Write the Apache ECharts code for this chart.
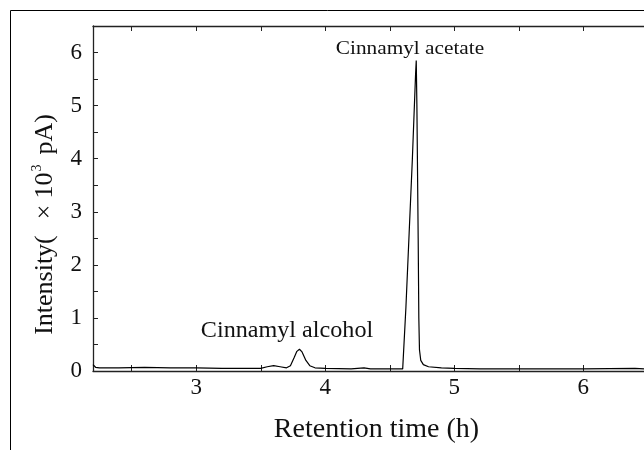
<!DOCTYPE html>
<html><head><meta charset="utf-8">
<script src="https://cdn.jsdelivr.net/npm/echarts@6/dist/echarts.min.js"></script>
<style>html,body{margin:0;padding:0;background:#fff}#c{width:644px;height:450px}</style>
</head><body><div id="c"></div>
<script>
// Retention time (h)
const retentionTime = [2.2, 2.22, 2.25, 2.4, 2.6, 2.8, 3.0, 3.2, 3.4, 3.5, 3.55, 3.6, 3.65, 3.7, 3.73, 3.76, 3.78, 3.8, 3.82, 3.85, 3.88, 3.92, 4.0, 4.2, 4.3, 4.35, 4.5, 4.6, 4.625, 4.65, 4.675, 4.7, 4.705, 4.71, 4.72, 4.725, 4.73, 4.74, 4.76, 4.8, 4.9, 5.0, 5.2, 5.5, 6.0, 6.4, 6.47];
// Intensity (x10^3 pA)
const intensity =     [0.12, 0.07, 0.06, 0.06, 0.07, 0.06, 0.06, 0.05, 0.05, 0.05, 0.08, 0.1, 0.08, 0.06, 0.1, 0.26, 0.37, 0.41, 0.36, 0.2, 0.1, 0.06, 0.05, 0.04, 0.06, 0.04, 0.04, 0.04, 1.2, 2.6, 4.0, 5.6, 5.85, 5.0, 2.5, 1.0, 0.4, 0.2, 0.12, 0.08, 0.06, 0.05, 0.04, 0.04, 0.04, 0.05, 0.04];
const xTickValues = [2.5, 3, 3.5, 4, 4.5, 5, 5.5, 6];
const xLabelValues = [3, 4, 5, 6];
const yLabelValues = [0, 1, 2, 3, 4, 5, 6];
const annotations = [
  { text: 'Cinnamyl alcohol' },
  { text: 'Cinnamyl acetate' }
];

const FONT = '"Liberation Serif", "DejaVu Serif", serif';
const chart = echarts.init(document.getElementById('c'), null, { renderer: 'canvas' });
const axisLine = { show: true, lineStyle: { color: '#222', width: 1.3 } };
chart.setOption({
  animation: false,
  backgroundColor: '#fff',
  grid: { left: 93, top: 26, right: 0, bottom: 79, containLabel: false },
  xAxis: [{
    type: 'value', position: 'bottom', min: 2.2, max: 6.47,
    axisLine: axisLine,
    axisTick: { show: true, inside: true, length: 6, customValues: xTickValues, lineStyle: { color: '#222' } },
    axisLabel: { customValues: xLabelValues, fontFamily: FONT, fontSize: 23, color: '#111', margin: 5 },
    splitLine: { show: false },
    name: 'Retention time (h)', nameLocation: 'middle', nameGap: 45,
    nameTextStyle: { fontFamily: FONT, fontSize: 28, color: '#111', padding: [0, 0, 0, 16] }
  }, {
    type: 'value', position: 'top', min: 2.2, max: 6.47,
    axisLine: axisLine,
    axisTick: { show: true, inside: true, length: 5, customValues: xTickValues, lineStyle: { color: '#222' } },
    axisLabel: { show: false },
    splitLine: { show: false }
  }],
  yAxis: [{
    type: 'value', min: 0, max: 6.5, interval: 0.5,
    axisLine: axisLine,
    axisTick: { show: true, inside: true, length: 5, lineStyle: { color: '#222' } },
    axisLabel: { customValues: yLabelValues, fontFamily: FONT, fontSize: 23, color: '#111', margin: 11 },
    splitLine: { show: false },
    name: '{a|Intensity(}{m|×}{a|10}{s|3}{a|pA)}', nameLocation: 'middle', nameGap: 33,
    nameTextStyle: {
      fontFamily: FONT, fontSize: 26, color: '#111', padding: [0, 52, 0, 0],
      rich: {
        a: { fontFamily: FONT, fontSize: 26, color: '#111', lineHeight: 30 },
        m: { fontFamily: FONT, fontSize: 26, color: '#111', lineHeight: 30, padding: [0, 6, 0, 16] },
        s: { fontFamily: FONT, fontSize: 14, color: '#111', lineHeight: 30, verticalAlign: 'top', padding: [0, 10, 10, 1] }
      }
    }
  }],
  series: [{
    type: 'line',
    data: retentionTime.map((t, i) => [t, intensity[i]]),
    showSymbol: false, symbol: 'none', smooth: false,
    lineStyle: { color: '#000', width: 1.2 },
    clip: true
  }],
  graphic: [
    { type: 'rect', shape: { x: 10.5, y: 10.5, width: 700, height: 500 }, style: { fill: 'none', stroke: '#000', lineWidth: 1 }, silent: true },
    { type: 'text', x: 287, y: 331, scaleX: 1.05, style: { text: annotations[0].text, font: '23px ' + FONT, fill: '#111', textAlign: 'center', textVerticalAlign: 'middle' } },
    { type: 'text', x: 410, y: 49, scaleX: 1.12, style: { text: annotations[1].text, font: '19px ' + FONT, fill: '#111', textAlign: 'center', textVerticalAlign: 'middle' } }
  ]
});
</script></body></html>
